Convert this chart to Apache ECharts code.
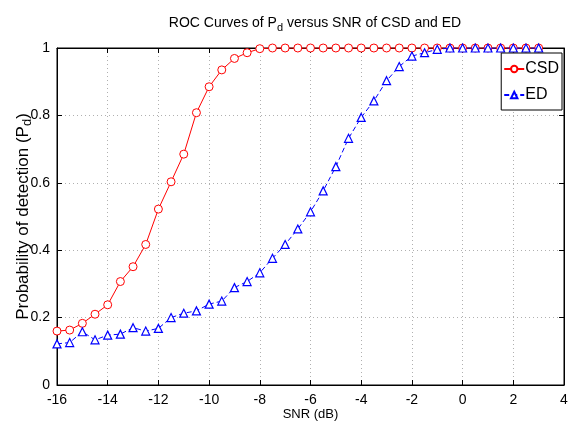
<!DOCTYPE html>
<html>
<head>
<meta charset="utf-8">
<script src="https://cdn.jsdelivr.net/npm/echarts@6/dist/echarts.min.js"></script>
<style>
  html, body { margin: 0; padding: 0; background: #ffffff; }
  #chart { width: 570px; height: 430px; }
</style>
</head>
<body>
<div id="chart"></div>
<script>
// SNR values in dB (x axis)
var snr = [-16, -15.5, -15, -14.5, -14, -13.5, -13, -12.5, -12, -11.5, -11, -10.5, -10,
  -9.5, -9, -8.5, -8, -7.5, -7, -6.5, -6, -5.5, -5, -4.5, -4, -3.5, -3, -2.5, -2,
  -1.5, -1, -0.5, 0, 0.5, 1, 1.5, 2, 2.5, 3];

// probability of detection, CSD
var csd = [0.160, 0.163, 0.183, 0.210, 0.238, 0.307, 0.351, 0.417, 0.522, 0.603, 0.685,
  0.808, 0.885, 0.935, 0.969, 0.986, 0.998, 1, 1, 1, 1, 1, 1, 1, 1, 1, 1, 1, 1, 1, 1,
  1, 1, 1, 1, 1, 1, 1, 1];

// probability of detection, ED
var ed = [0.122, 0.126, 0.158, 0.134, 0.148, 0.151, 0.170, 0.160, 0.168, 0.200, 0.213,
  0.220, 0.240, 0.249, 0.289, 0.307, 0.333, 0.376, 0.417, 0.463, 0.514, 0.576, 0.648,
  0.732, 0.794, 0.843, 0.903, 0.945, 0.976, 0.986, 0.996, 1, 1, 1, 1, 1, 1, 1, 1];

var fontName = "Liberation Sans";

function pairs(ys) {
  return snr.map(function (x, i) { return [x, ys[i]]; });
}

var chart = echarts.init(document.getElementById("chart"));

var gridLine = { show: true, lineStyle: { color: "#b0b0b0", type: [1, 3], width: 1 } };
var boxLine = { show: true, onZero: false, lineStyle: { color: "#000" } };
var tick = { show: true, inside: true, length: 5, lineStyle: { color: "#000" } };

chart.setOption({
  backgroundColor: "#ffffff",
  animation: false,
  title: {
    text: "ROC Curves of P{sub|d} versus SNR of CSD and ED",
    left: 310,
    textAlign: "center",
    top: 9,
    textStyle: {
      fontFamily: fontName,
      fontWeight: "normal",
      fontSize: 14,
      color: "#000",
      rich: {
        sub: { fontFamily: fontName, fontSize: 11, color: "#000", padding: [8, 0, 0, 0] }
      }
    }
  },
  legend: {
    orient: "vertical",
    right: 8,
    top: 53,
    itemWidth: 20,
    itemHeight: 8,
    itemGap: 10,
    padding: [8, 3, 7, 2],
    borderColor: "#000",
    borderWidth: 1,
    backgroundColor: "#fff",
    borderRadius: 0,
    textStyle: { fontFamily: fontName, fontSize: 16, color: "#000", padding: [0, 0, 0, -4] },
    data: ["CSD", "ED"]
  },
  grid: {
    left: 57,
    right: 6,
    top: 48,
    bottom: 45,
    outerBoundsMode: "none",
    show: true,
    borderColor: "#000",
    borderWidth: 1
  },
  xAxis: [
    {
      type: "value",
      min: -16,
      max: 4,
      interval: 2,
      name: "SNR (dB)",
      nameLocation: "middle",
      nameGap: 23,
      nameMoveOverlap: false,
      nameTextStyle: { fontFamily: fontName, fontSize: 13, color: "#000" },
      axisLine: boxLine,
      axisTick: tick,
      axisLabel: { fontFamily: fontName, fontSize: 14, color: "#000", margin: 8 },
      splitLine: gridLine
    },
    {
      type: "value",
      position: "top",
      min: -16,
      max: 4,
      interval: 2,
      axisLine: boxLine,
      axisTick: tick,
      axisLabel: { show: false },
      splitLine: { show: false }
    }
  ],
  yAxis: [
    {
      type: "value",
      min: 0,
      max: 1,
      interval: 0.2,
      name: "Probability of detection (P{sub|d})",
      nameLocation: "middle",
      nameGap: 23,
      nameMoveOverlap: false,
      nameTextStyle: {
        fontFamily: fontName,
        fontSize: 17,
        color: "#000",
        rich: {
          sub: { fontFamily: fontName, fontSize: 13, color: "#000", padding: [9, 0, 0, 0] }
        }
      },
      axisLine: boxLine,
      axisTick: tick,
      axisLabel: { fontFamily: fontName, fontSize: 14, color: "#000", margin: 7 },
      splitLine: gridLine
    },
    {
      type: "value",
      position: "right",
      min: 0,
      max: 1,
      interval: 0.2,
      axisLine: boxLine,
      axisTick: tick,
      axisLabel: { show: false },
      splitLine: { show: false }
    }
  ],
  series: [
    {
      name: "CSD",
      type: "line",
      data: pairs(csd),
      symbol: "circle",
      symbolSize: 8,
      showAllSymbol: true,
      color: "#ff0000",
      lineStyle: { color: "#ff0000", width: 1 },
      itemStyle: { color: "#ffffff", borderColor: "#ff0000", borderWidth: 1 },
      z: 2
    },
    {
      name: "ED",
      type: "line",
      data: pairs(ed),
      symbol: "triangle",
      symbolSize: 8,
      showAllSymbol: true,
      color: "#0000ff",
      lineStyle: { color: "#0000ff", width: 1, type: [5, 3] },
      itemStyle: { color: "#ffffff", borderColor: "#0000ff", borderWidth: 1.2 },
      z: 3
    }
  ]
});
</script>
</body>
</html>
